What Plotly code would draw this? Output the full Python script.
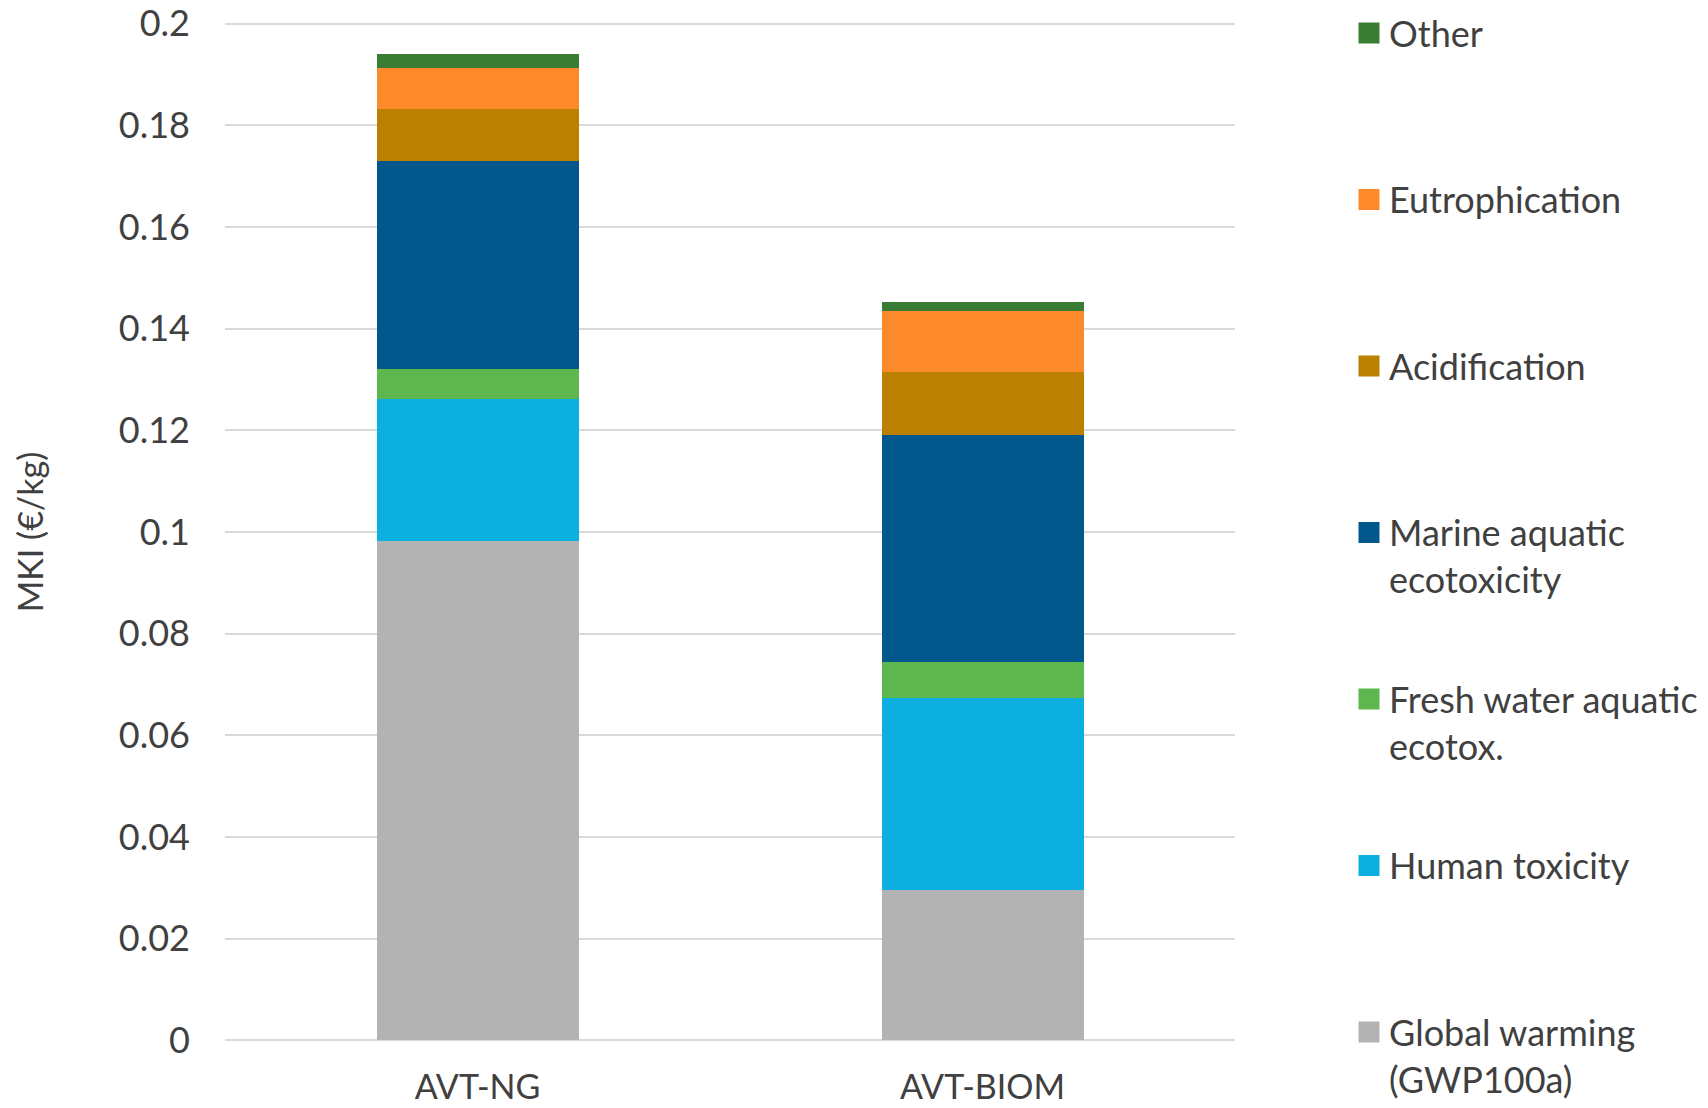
import plotly.graph_objects as go

# Scenarios on the x axis
categories = ["AVT-NG", "AVT-BIOM"]

# Impact category contributions to the MKI score (€/kg), bottom to top of each stack
global_warming = [0.0983, 0.0296]
human_toxicity = [0.0279, 0.0377]
fresh_water_ecotox = [0.0059, 0.0071]
marine_ecotox = [0.0409, 0.0446]
acidification = [0.0102, 0.0125]
eutrophication = [0.0080, 0.0119]
other = [0.0028, 0.0019]

series_names = [
    "Global warming<br>(GWP100a)",
    "Human toxicity",
    "Fresh water aquatic<br>ecotox.",
    "Marine aquatic<br>ecotoxicity",
    "Acidification",
    "Eutrophication",
    "Other",
]
series_values = [
    global_warming,
    human_toxicity,
    fresh_water_ecotox,
    marine_ecotox,
    acidification,
    eutrophication,
    other,
]
series_colors = [
    "#b3b3b3",
    "#0daee0",
    "#5eb64f",
    "#02588c",
    "#bb8000",
    "#fd8a2a",
    "#3a7c33",
]

y_tick_values = [0, 0.02, 0.04, 0.06, 0.08, 0.1, 0.12, 0.14, 0.16, 0.18, 0.2]
y_tick_labels = ["0", "0.02", "0.04", "0.06", "0.08", "0.1", "0.12", "0.14", "0.16", "0.18", "0.2"]

FONT = "Lato, Carlito, Calibri, 'Open Sans', sans-serif"
TEXT_COLOR = "#404040"
GRID_COLOR = "#d9d9d9"
FIG_W, FIG_H = 1708, 1108

# Key layout: one entry per impact, top entry = last stacked series,
# entries evenly spaced by their first text line
KEY_LEFT_PX = 1349
KEY_FIRST_CENTER_PX = 34
KEY_STEP_PX = 166.5
KEY_TOP_OFFSET_PX = 31

fig = go.Figure()

n = len(series_names)
for name, values, color in zip(series_names, series_values, series_colors):
    fig.add_trace(
        go.Bar(
            x=categories,
            y=values,
            name=name,
            marker=dict(color=color, line=dict(width=0)),
            legendgroup=name,
            showlegend=False,
        )
    )

legend_layouts = {}
for i, (name, color) in enumerate(zip(series_names, series_colors)):
    slot = n - 1 - i  # "Other" sits at the top of the key
    legend_id = "legend" if slot == 0 else f"legend{slot + 1}"
    fig.add_trace(
        go.Scatter(
            x=[None],
            y=[None],
            mode="markers",
            name=name,
            legendgroup=name,
            legend=legend_id,
            marker=dict(symbol="square", size=16, color=color, line=dict(color=color, width=5)),
            hoverinfo="skip",
        )
    )
    top_px = KEY_FIRST_CENTER_PX + slot * KEY_STEP_PX - KEY_TOP_OFFSET_PX
    legend_layouts[legend_id] = dict(
        xref="container",
        yref="container",
        x=KEY_LEFT_PX / FIG_W,
        y=1 - top_px / FIG_H,
        xanchor="left",
        yanchor="top",
        valign="top",
        bgcolor="rgba(0,0,0,0)",
        borderwidth=0,
        font=dict(family=FONT, size=36, color=TEXT_COLOR),
    )

fig.update_layout(
    width=FIG_W,
    height=FIG_H,
    barmode="stack",
    bargap=0.6,
    margin=dict(l=225, r=473, t=22, b=66, pad=0, autoexpand=False),
    paper_bgcolor="white",
    plot_bgcolor="white",
    font=dict(family=FONT, size=36, color=TEXT_COLOR),
    showlegend=True,
    **legend_layouts,
)

fig.update_yaxes(
    range=[-0.0003, 0.2003],
    tickvals=y_tick_values,
    ticktext=y_tick_labels,
    showgrid=True,
    gridcolor=GRID_COLOR,
    gridwidth=2,
    zeroline=False,
    showline=False,
    ticks="",
    ticklabelstandoff=34,
    tickfont=dict(family=FONT, size=36, color=TEXT_COLOR),
    title=dict(text="MKI (€/kg)", font=dict(family=FONT, size=34, color=TEXT_COLOR), standoff=64),
)

fig.update_xaxes(
    showgrid=False,
    showline=False,
    ticks="",
    ticklabelstandoff=22,
    tickfont=dict(family=FONT, size=34, color=TEXT_COLOR),
)

fig.write_html("out.html")
